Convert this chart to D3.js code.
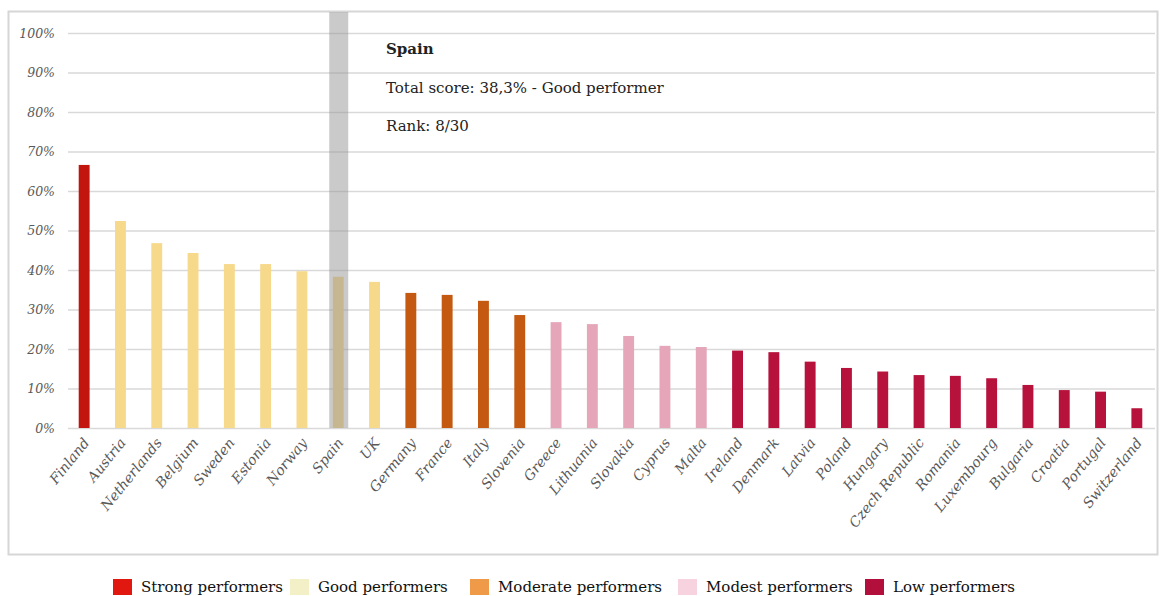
<!DOCTYPE html>
<html>
<head>
<meta charset="utf-8">
<script src="https://cdn.jsdelivr.net/npm/d3@7"></script>
<style>
  body { margin: 0; background: #fff; }
  svg { display: block; }
</style>
</head>
<body>
<div id="viz"></div>
<script>
const countries = ["Finland", "Austria", "Netherlands", "Belgium", "Sweden", "Estonia", "Norway", "Spain", "UK",
  "Germany", "France", "Italy", "Slovenia", "Greece", "Lithuania", "Slovakia", "Cyprus", "Malta", "Ireland",
  "Denmark", "Latvia", "Poland", "Hungary", "Czech Republic", "Romania", "Luxembourg", "Bulgaria", "Croatia",
  "Portugal", "Switzerland"];
const scores = [66.6, 52.4, 46.8, 44.3, 41.5, 41.5, 39.7, 38.3, 37.0,
  34.2, 33.7, 32.2, 28.6, 26.8, 26.3, 23.3, 20.8, 20.5, 19.6,
  19.2, 16.8, 15.2, 14.3, 13.4, 13.2, 12.6, 10.9, 9.6,
  9.2, 5.0];
const groups = [0, 1, 1, 1, 1, 1, 1, 1, 1,
  2, 2, 2, 2, 3, 3, 3, 3, 3, 4,
  4, 4, 4, 4, 4, 4, 4, 4, 4,
  4, 4];
const categories = ["Strong performers", "Good performers", "Moderate performers", "Modest performers", "Low performers"];
const yTicks = [0, 10, 20, 30, 40, 50, 60, 70, 80, 90, 100];
const highlight = "Spain";
const noteLines = ["Spain", "Total score: 38,3% - Good performer", "Rank: 8/30"];

const barColors = ["#c2150e", "#f7d98b", "#c45a12", "#e4a6b8", "#b7123c"];
const legendColors = ["#e0180f", "#f3efc6", "#ef9a48", "#f6d3df", "#b30f3c"];

const W = 1163, H = 596;
const data = countries.map((c, i) => ({name: c, val: scores[i], g: groups[i]}));

const svg = d3.select("#viz").append("svg")
  .attr("width", W)
  .attr("height", H)
  .style("font-family", "'DejaVu Serif', serif");

// outer frame
svg.append("rect")
  .attr("x", 8.5).attr("y", 11.5)
  .attr("width", 1149).attr("height", 543)
  .attr("fill", "none")
  .attr("stroke", "#d6d6d6")
  .attr("stroke-width", 2);

const x = d3.scaleBand()
  .domain(countries)
  .range([66, 1155])
  .paddingInner(0.7)
  .paddingOuter(0.35);

const y = d3.scaleLinear()
  .domain([0, 100])
  .range([428, 33]);

// gridlines + y labels
const yAxis = svg.append("g")
  .attr("transform", "translate(68,0)")
  .call(d3.axisLeft(y).tickValues(yTicks).tickFormat(d => d + "%").tickSize(-1087).tickPadding(13));
yAxis.select(".domain").remove();
yAxis.selectAll(".tick line").attr("stroke", "#d9d9d9").attr("stroke-width", 1.5);
yAxis.selectAll(".tick text")
  .attr("fill", "#595959")
  .style("font-family", "'DejaVu Serif', serif")
  .style("font-style", "italic")
  .style("font-size", "12.5px");

// bars
svg.append("g")
  .selectAll("rect")
  .data(data)
  .join("rect")
    .attr("x", d => x(d.name))
    .attr("width", x.bandwidth())
    .attr("y", d => y(d.val))
    .attr("height", d => y(0) - y(d.val))
    .attr("fill", d => barColors[d.g]);

// highlight band
svg.append("rect")
  .attr("x", x(highlight) + x.bandwidth() / 2 - 9)
  .attr("width", 19)
  .attr("y", 12)
  .attr("height", y(0) - 12)
  .attr("fill", "#969696")
  .attr("opacity", 0.5);

// annotation
svg.append("g")
  .selectAll("text")
  .data(noteLines)
  .join("text")
    .attr("x", 386)
    .attr("y", (d, i) => 54 + i * 38.5)
    .attr("fill", "#222")
    .style("font-size", "15px")
    .style("font-weight", (d, i) => i === 0 ? "bold" : "normal")
    .text(d => d);

// x labels
svg.append("g")
  .selectAll("text")
  .data(data)
  .join("text")
    .attr("transform", d => `translate(${x(d.name) + x.bandwidth() / 2 + 6},${y(0) + 15}) rotate(-51)`)
    .attr("text-anchor", "end")
    .attr("fill", "#595959")
    .style("font-style", "italic")
    .style("font-size", "14px")
    .text(d => d.name);

// legend
const legendX = [141, 318, 498, 706, 893];
const legend = svg.append("g")
  .selectAll("g")
  .data(categories)
  .join("g")
    .attr("transform", (d, i) => `translate(${legendX[i]},579)`);
legend.append("rect")
  .attr("x", -28)
  .attr("width", 19).attr("height", 16)
  .attr("fill", (d, i) => legendColors[i]);
legend.append("text")
  .attr("y", 13)
  .attr("fill", "#111")
  .style("font-size", "15px")
  .text(d => d);
</script>
</body>
</html>
